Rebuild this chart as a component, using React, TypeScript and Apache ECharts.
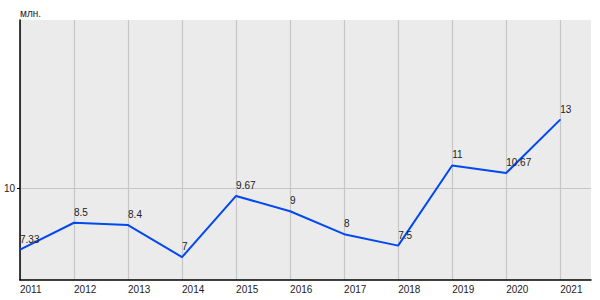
import React, { useEffect, useRef } from "react";
import * as echarts from "echarts";

const years = [2011, 2012, 2013, 2014, 2015, 2016, 2017, 2018, 2019, 2020, 2021];
const values = [7.33, 8.5, 8.4, 7, 9.67, 9, 8, 7.5, 11, 10.67, 13];
const yTicks = [10];
const unitName = "млн.";

export default function App() {
  const ref = useRef<HTMLDivElement>(null);
  useEffect(() => {
    if (!ref.current) return;
    const chart = echarts.init(ref.current, undefined, { renderer: "svg" });
    const font = "Liberation Sans, Arial, sans-serif";
    chart.setOption({
      animation: false,
      grid: {
        left: 20,
        top: 20,
        right: 9,
        bottom: 20,
        show: true,
        backgroundColor: "#ebebeb",
        borderWidth: 0,
      },
      xAxis: {
        type: "value",
        min: 2011,
        max: 2021.57,
        interval: 1,
        axisLine: { show: true, onZero: false, lineStyle: { color: "#000", width: 1.5 } },
        axisTick: { show: false, customValues: years },
        axisLabel: {
          customValues: years,
          align: "left",
          margin: 4,
          fontSize: 10,
          fontFamily: font,
          color: "#222",
          formatter: (v: number) => String(v),
        },
        splitLine: { show: true, lineStyle: { color: "#c6c6c6", width: 1.2 } },
      },
      yAxis: {
        type: "value",
        min: 6,
        max: 17.35,
        name: unitName,
        nameLocation: "end",
        nameGap: 7,
        nameTextStyle: {
          align: "left",
          verticalAlign: "middle",
          fontSize: 10,
          fontFamily: font,
          color: "#222",
        },
        axisLine: { show: true, lineStyle: { color: "#000", width: 1.5 } },
        axisTick: { show: true, length: 3, customValues: yTicks, lineStyle: { color: "#000" } },
        axisLabel: {
          customValues: yTicks,
          margin: 5,
          fontSize: 10,
          fontFamily: font,
          color: "#222",
        },
        splitLine: { show: true, lineStyle: { color: "#c6c6c6", width: 1.2 } },
      },
      series: [
        {
          type: "line",
          data: years.map((y, i) => [y, values[i]]),
          symbol: "circle",
          symbolSize: 1,
          showSymbol: true,
          itemStyle: { color: "#0048f0" },
          lineStyle: { color: "#0048f0", width: 2 },
          label: {
            show: true,
            position: "top",
            align: "left",
            distance: 5,
            fontSize: 10,
            fontFamily: font,
            color: "#222",
            formatter: (p: any) => String(p.value[1]),
          },
        },
      ],
    });
    return () => chart.dispose();
  }, []);
  return (
    <div
      ref={ref}
      style={{ position: "fixed", left: 0, top: 0, width: 600, height: 300, background: "#fff" }}
    />
  );
}
